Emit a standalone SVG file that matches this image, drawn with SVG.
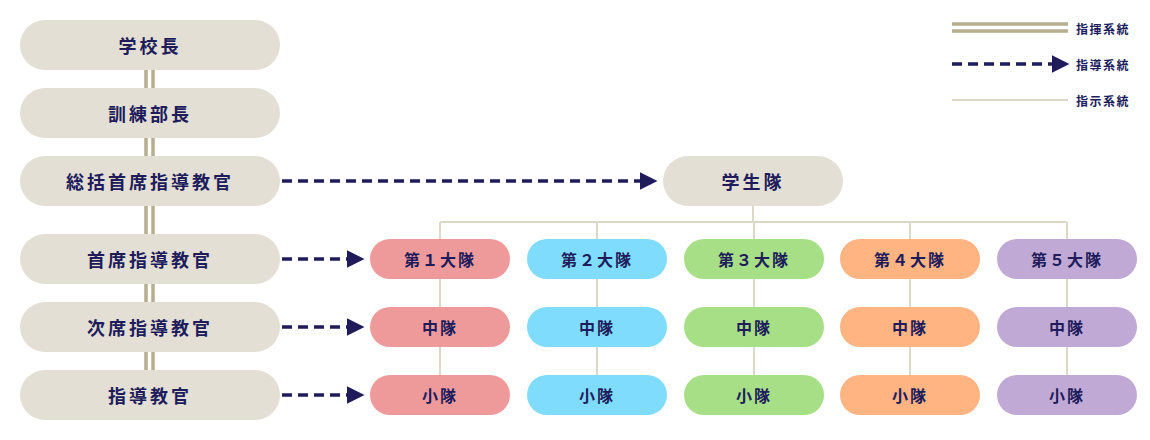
<svg xmlns="http://www.w3.org/2000/svg" width="1150" height="440" viewBox="0 0 1150 440">
<defs>
<style>
.n{fill:#e3dfd4}
.t{font-family:"Noto Sans CJK JP","Noto Sans",sans-serif;font-weight:700;fill:#201c5c;text-anchor:middle;dominant-baseline:central}
.big{font-size:18px;letter-spacing:3px}
.sm{font-size:16px;letter-spacing:2px}
.lg{font-size:12px;letter-spacing:1.5px;text-anchor:start}
.cmd{stroke:#b7ad8f;stroke-width:3.5;fill:none}
.dash{stroke:#201c5c;stroke-width:3.5;stroke-dasharray:10 6;fill:none}
.ins{stroke:#dcd8c8;stroke-width:2;fill:none}
</style>
<marker id="ar" viewBox="0 0 10 10" refX="0" refY="5" markerWidth="5" markerHeight="5" orient="auto" markerUnits="strokeWidth"><path d="M0,0L10,5L0,10z" fill="#201c5c"/></marker>
</defs>
<g id="connectors">
<path class="cmd" d="M146,70V370M153,70V370"/>
<path class="ins" d="M753,206V222M440,222H1067M440,222V395M597,222V395M754,222V395M910,222V395M1067,222V395"/>
<path class="dash" d="M282,181H640" marker-end="url(#ar)"/>
<path class="dash" d="M282,259H347" marker-end="url(#ar)"/>
<path class="dash" d="M282,327H347" marker-end="url(#ar)"/>
<path class="dash" d="M282,395H347" marker-end="url(#ar)"/>
</g>
<g id="n1"><rect class="n" x="20" y="20" width="260" height="50" rx="25"/><text class="t big" x="150" y="45">学校長</text></g>
<g id="n2"><rect class="n" x="20" y="88" width="260" height="50" rx="25"/><text class="t big" x="150" y="113">訓練部長</text></g>
<g id="n3"><rect class="n" x="20" y="156" width="260" height="50" rx="25"/><text class="t big" x="150" y="181">総括首席指導教官</text></g>
<g id="n4"><rect class="n" x="20" y="234" width="260" height="50" rx="25"/><text class="t big" x="150" y="259">首席指導教官</text></g>
<g id="n5"><rect class="n" x="20" y="302" width="260" height="50" rx="25"/><text class="t big" x="150" y="327">次席指導教官</text></g>
<g id="n6"><rect class="n" x="20" y="370" width="260" height="50" rx="25"/><text class="t big" x="150" y="395">指導教官</text></g>
<g id="gs"><rect class="n" x="663" y="156" width="180" height="50" rx="25"/><text class="t big" x="753" y="181">学生隊</text></g>
<g id="c1" fill="#ef9a9a"><rect x="370" y="239" width="140" height="40" rx="20"/><rect x="370" y="307" width="140" height="40" rx="20"/><rect x="370" y="375" width="140" height="40" rx="20"/>
<text class="t sm" x="440" y="259">第１大隊</text><text class="t sm" x="440" y="327">中隊</text><text class="t sm" x="440" y="395">小隊</text></g>
<g id="c2" fill="#7fdcfc"><rect x="527" y="239" width="140" height="40" rx="20"/><rect x="527" y="307" width="140" height="40" rx="20"/><rect x="527" y="375" width="140" height="40" rx="20"/>
<text class="t sm" x="597" y="259">第２大隊</text><text class="t sm" x="597" y="327">中隊</text><text class="t sm" x="597" y="395">小隊</text></g>
<g id="c3" fill="#a6df85"><rect x="684" y="239" width="140" height="40" rx="20"/><rect x="684" y="307" width="140" height="40" rx="20"/><rect x="684" y="375" width="140" height="40" rx="20"/>
<text class="t sm" x="754" y="259">第３大隊</text><text class="t sm" x="754" y="327">中隊</text><text class="t sm" x="754" y="395">小隊</text></g>
<g id="c4" fill="#ffb482"><rect x="840" y="239" width="140" height="40" rx="20"/><rect x="840" y="307" width="140" height="40" rx="20"/><rect x="840" y="375" width="140" height="40" rx="20"/>
<text class="t sm" x="910" y="259">第４大隊</text><text class="t sm" x="910" y="327">中隊</text><text class="t sm" x="910" y="395">小隊</text></g>
<g id="c5" fill="#c1a9d5"><rect x="997" y="239" width="140" height="40" rx="20"/><rect x="997" y="307" width="140" height="40" rx="20"/><rect x="997" y="375" width="140" height="40" rx="20"/>
<text class="t sm" x="1067" y="259">第５大隊</text><text class="t sm" x="1067" y="327">中隊</text><text class="t sm" x="1067" y="395">小隊</text></g>
<g id="legend">
<path class="cmd" d="M952,24H1068M952,31H1068"/>
<path class="dash" d="M952,64H1052" marker-end="url(#ar)" stroke-dasharray="9 5"/>
<path class="ins" d="M952,100H1068"/>
<text class="t lg" x="1076" y="28">指揮系統</text>
<text class="t lg" x="1076" y="64">指導系統</text>
<text class="t lg" x="1076" y="100">指示系統</text>
</g>
</svg>
